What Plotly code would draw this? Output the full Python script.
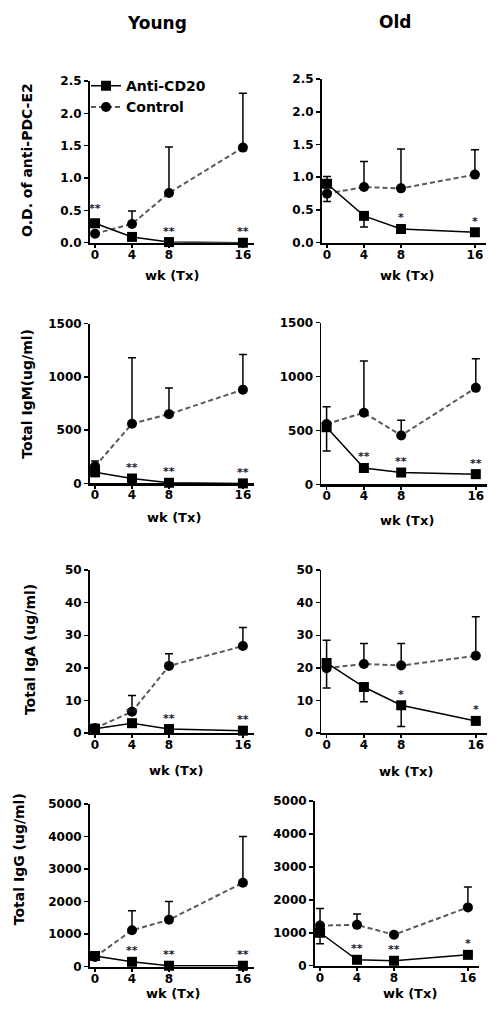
import plotly.graph_objects as go

W, H = 497, 1024
FONT = "DejaVu Sans"

# ---------------- data ----------------
weeks = [0, 4, 8, 16]
x_tick_vals = [0, 4, 8, 16]
x_tick_text = ["0", "4", "8", "16"]

# O.D. of anti-PDC-E2
od_y_anti = [0.30, 0.09, 0.01, 0.00]
od_y_anti_up = [0.06, 0, 0, 0]
od_y_anti_dn = [0.04, 0, 0, 0]
od_y_ctrl = [0.14, 0.29, 0.77, 1.47]
od_y_ctrl_up = [0.0, 0.20, 0.71, 0.84]
od_y_ctrl_dn = [0, 0, 0, 0]
od_y_stars = ["**", "", "**", "**"]

od_o_anti = [0.90, 0.41, 0.21, 0.16]
od_o_anti_up = [0.11, 0, 0, 0]
od_o_anti_dn = [0, 0.17, 0.0, 0.0]
od_o_ctrl = [0.75, 0.85, 0.83, 1.04]
od_o_ctrl_up = [0, 0.39, 0.60, 0.38]
od_o_ctrl_dn = [0.12, 0, 0, 0]
od_o_stars = ["", "", "*", "*"]

# Total IgM (ug/ml)
igm_y_anti = [105, 46, 6, 0]
igm_y_anti_up = [30, 0, 0, 0]
igm_y_anti_dn = [40, 0, 0, 0]
igm_y_ctrl = [160, 560, 650, 880]
igm_y_ctrl_up = [50, 620, 245, 330]
igm_y_ctrl_dn = [0, 0, 0, 0]
igm_y_stars = ["", "**", "**", "**"]

igm_o_anti = [530, 152, 110, 95]
igm_o_anti_up = [0, 0, 0, 0]
igm_o_anti_dn = [220, 0, 0, 0]
igm_o_ctrl = [560, 665, 454, 895]
igm_o_ctrl_up = [160, 480, 140, 270]
igm_o_ctrl_dn = [0, 0, 0, 0]
igm_o_stars = ["", "**", "**", "**"]

# Total IgA (ug/ml)
iga_y_anti = [1.3, 3.0, 1.2, 0.7]
iga_y_anti_up = [0, 0, 0, 0]
iga_y_anti_dn = [0, 0, 0, 0]
iga_y_ctrl = [1.5, 6.5, 20.6, 26.7]
iga_y_ctrl_up = [0, 5.0, 3.7, 5.7]
iga_y_ctrl_dn = [0, 0, 0, 0]
iga_y_stars = ["", "**", "**", "**"]

iga_o_anti = [21.5, 14.1, 8.5, 3.7]
iga_o_anti_up = [0, 0, 0, 0]
iga_o_anti_dn = [7.7, 4.5, 6.5, 0]
iga_o_ctrl = [19.9, 21.2, 20.7, 23.7]
iga_o_ctrl_up = [8.6, 6.3, 6.8, 12.0]
iga_o_ctrl_dn = [0, 0, 0, 0]
iga_o_stars = ["", "", "*", "*"]

# Total IgG (ug/ml)
igg_y_anti = [330, 150, 30, 30]
igg_y_anti_up = [120, 0, 0, 0]
igg_y_anti_dn = [100, 0, 0, 0]
igg_y_ctrl = [300, 1120, 1440, 2580]
igg_y_ctrl_up = [0, 600, 560, 1420]
igg_y_ctrl_dn = [0, 0, 0, 0]
igg_y_stars = ["", "**", "**", "**"]

igg_o_anti = [1000, 180, 150, 330]
igg_o_anti_up = [0, 0, 0, 0]
igg_o_anti_dn = [330, 0, 0, 0]
igg_o_ctrl = [1220, 1240, 940, 1770]
igg_o_ctrl_up = [520, 330, 0, 620]
igg_o_ctrl_dn = [0, 0, 0, 0]
igg_o_stars = ["", "**", "**", "*"]

col_titles = ["Young", "Old"]
row_titles = ["O.D. of anti-PDC-E2", "Total IgM(ug/ml)", "Total IgA (ug/ml)", "Total IgG (ug/ml)"]
x_title = "wk (Tx)"

y_ticks = [
    [0, 0.5, 1.0, 1.5, 2.0, 2.5],
    [0, 500, 1000, 1500],
    [0, 10, 20, 30, 40, 50],
    [0, 1000, 2000, 3000, 4000, 5000],
]
y_fmt = [".1f", "d", "d", "d"]

panels = [
    (od_y_anti, od_y_anti_up, od_y_anti_dn, od_y_ctrl, od_y_ctrl_up, od_y_ctrl_dn, od_y_stars),
    (od_o_anti, od_o_anti_up, od_o_anti_dn, od_o_ctrl, od_o_ctrl_up, od_o_ctrl_dn, od_o_stars),
    (igm_y_anti, igm_y_anti_up, igm_y_anti_dn, igm_y_ctrl, igm_y_ctrl_up, igm_y_ctrl_dn, igm_y_stars),
    (igm_o_anti, igm_o_anti_up, igm_o_anti_dn, igm_o_ctrl, igm_o_ctrl_up, igm_o_ctrl_dn, igm_o_stars),
    (iga_y_anti, iga_y_anti_up, iga_y_anti_dn, iga_y_ctrl, iga_y_ctrl_up, iga_y_ctrl_dn, iga_y_stars),
    (iga_o_anti, iga_o_anti_up, iga_o_anti_dn, iga_o_ctrl, iga_o_ctrl_up, iga_o_ctrl_dn, iga_o_stars),
    (igg_y_anti, igg_y_anti_up, igg_y_anti_dn, igg_y_ctrl, igg_y_ctrl_up, igg_y_ctrl_dn, igg_y_stars),
    (igg_o_anti, igg_o_anti_up, igg_o_anti_dn, igg_o_ctrl, igg_o_ctrl_up, igg_o_ctrl_dn, igg_o_stars),
]


def px(X):
    return X / W


def py(Y):
    return 1 - Y / H


# ---------------- layout geometry (window pixels) ----------------
# (x_left, x_right, y_top, y_bottom)
geom = [
    (89.5, 254, 75, 239), (321.5, 486, 73, 239),
    (89.5, 254, 321, 483), (321, 487, 320, 484),
    (89.5, 254, 571, 736), (321, 487, 571, 736),
    (89.5, 254, 808, 973), (314.5, 479, 805, 972),
]
y_ranges = [[0, 2.5], [0, 1500], [0, 50], [0, 5000]]
x_range = [-0.6, 17.2]

fig = go.Figure()
layout = dict(
    width=W, height=H,
    margin=dict(l=0, r=0, t=0, b=0),
    paper_bgcolor="white", plot_bgcolor="white",
    font=dict(family=FONT, color="black"),
    showlegend=True,
    legend=dict(
        x=px(86), y=py(64), xanchor="left", yanchor="top",
        bgcolor="rgba(0,0,0,0)", font=dict(family=FONT, size=14, weight="bold", color="black"),
        tracegroupgap=0, itemwidth=30,
    ),
)
annotations = []

for i, (anti, aup, adn, ctrl, cup, cdn, stars) in enumerate(panels):
    r = i // 2
    n = i + 1
    xa = "x" if n == 1 else f"x{n}"
    ya = "y" if n == 1 else f"y{n}"
    xl, xr, yt, yb = geom[i]

    fig.add_trace(go.Scatter(
        x=weeks, y=ctrl, xaxis=xa, yaxis=ya, name="Control",
        mode="lines+markers", showlegend=(i == 0), legendrank=2,
        line=dict(color="#5a5a5a", width=2, dash="5px,3px"),
        marker=dict(symbol="circle", size=10, color="black"),
        error_y=dict(type="data", symmetric=False, array=cup, arrayminus=cdn,
                     color="black", thickness=1.5, width=4),
        cliponaxis=False, hoverinfo="skip",
    ))
    fig.add_trace(go.Scatter(
        x=weeks, y=anti, xaxis=xa, yaxis=ya, name="Anti-CD20",
        mode="lines+markers", showlegend=(i == 0), legendrank=1,
        line=dict(color="black", width=1.5),
        marker=dict(symbol="square", size=10, color="black"),
        error_y=dict(type="data", symmetric=False, array=aup, arrayminus=adn,
                     color="black", thickness=1.5, width=4),
        cliponaxis=False, hoverinfo="skip",
    ))

    layout["xaxis" if n == 1 else f"xaxis{n}"] = dict(
        domain=[px(xl), px(xr)], anchor=ya, range=x_range,
        tickvals=x_tick_vals, ticktext=x_tick_text,
        showline=True, linecolor="black", linewidth=2.5,
        ticks="outside", ticklen=3, tickwidth=1.5, tickcolor="black",
        ticklabelstandoff=-4,
        showgrid=False, zeroline=False, fixedrange=True,
        tickfont=dict(family=FONT, size=12, weight="bold", color="black"),
    )
    layout["yaxis" if n == 1 else f"yaxis{n}"] = dict(
        domain=[py(yb), py(yt)], anchor=xa, range=y_ranges[r],
        tickvals=y_ticks[r], tickformat=y_fmt[r],
        showline=True, linecolor="black", linewidth=1.5,
        ticks="outside", ticklen=4, tickwidth=1.5, tickcolor="black",
        showgrid=False, zeroline=False, fixedrange=True,
        tickfont=dict(family=FONT, size=12, weight="bold", color="black"),
    )

    for xv, av, au, s in zip(weeks, anti, aup, stars):
        if s:
            annotations.append(dict(
                x=xv, y=av + au, xref=xa, yref=ya, text=s, showarrow=False,
                yanchor="middle", yshift=11,
                font=dict(family=FONT, size=11, weight="bold", color="#1a1a2e"),
            ))

# column titles
for txt, cx, cy in zip(col_titles, [157, 395], [16, 15]):
    annotations.append(dict(x=px(cx), y=py(cy), xref="paper", yref="paper", text=txt,
                            showarrow=False, xanchor="center", yanchor="middle",
                            font=dict(family=FONT, size=17, weight="bold", color="black")))

# row (y-axis) titles
for txt, cx, cy in zip(row_titles, [27, 27, 30, 19], [155, 392, 652, 864]):
    annotations.append(dict(x=px(cx), y=py(cy), xref="paper", yref="paper", text=txt,
                            showarrow=False, textangle=-90, xanchor="center", yanchor="middle",
                            font=dict(family=FONT, size=14, weight="bold", color="black")))

# x-axis titles
for cx, cy in [(172, 272), (407, 272), (174, 518), (407, 521),
               (176, 774), (406, 775), (173, 1000), (410, 1000)]:
    annotations.append(dict(x=px(cx), y=py(cy), xref="paper", yref="paper", text=x_title,
                            showarrow=False, xanchor="center", yanchor="middle",
                            font=dict(family=FONT, size=13, weight="bold", color="black")))

layout["annotations"] = annotations
fig.update_layout(**layout)

# place the figure at the window's top-left corner (no page margin, no scrollbars)
page_fix = (
    "document.documentElement.style.margin='0';"
    "document.documentElement.style.overflow='hidden';"
    "document.body.style.margin='0';"
    "document.body.style.overflow='hidden';"
)
fig.write_html("out.html", post_script=page_fix,
               config={"displayModeBar": False, "staticPlot": True})
